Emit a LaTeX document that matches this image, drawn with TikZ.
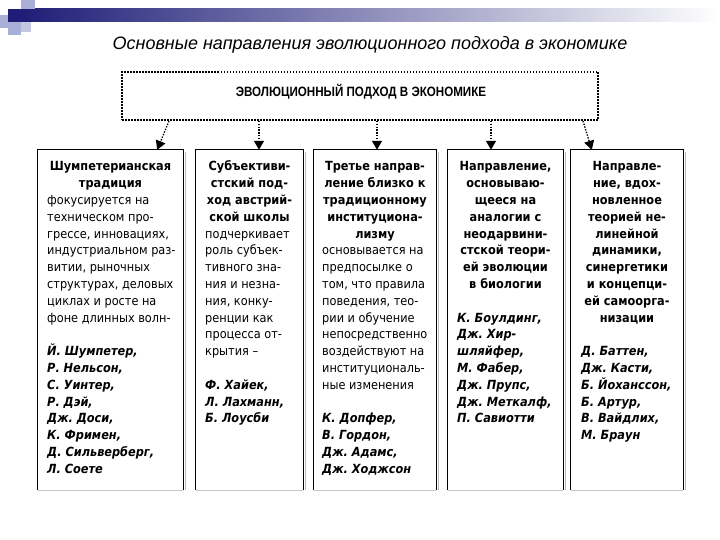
\documentclass[tikz,border=0pt]{standalone}
\usepackage{fontspec}
\setmainfont{DejaVu Sans Condensed}
\newfontfamily\titlefont{Liberation Sans}
\usetikzlibrary{arrows.meta,calc}
\definecolor{navy}{HTML}{1E1E78}
\definecolor{lav}{HTML}{A9AFD6}
\tikzset{
  colbox/.style={inner sep=0pt, fill=white},
  colfont/.style={font=\fontsize{12.6}{16.8}\selectfont\frenchspacing},
  headtext/.style={anchor=north, inner sep=0pt, align=center, colfont},
  bodytext/.style={anchor=north west, inner sep=0pt, align=left, colfont},
  nametext/.style={anchor=north west, inner sep=0pt, align=left, font=\fontsize{12.6}{16.8}\selectfont\frenchspacing\bfseries\itshape},
  topbox/.style={draw=black, line width=1.5pt, dash pattern=on 1.5pt off 1.5pt, inner sep=0pt, fill=white},
  arr/.style={line width=1.3pt, dash pattern=on 1.4pt off 1.4pt, -{Triangle[width=10pt,length=9pt]}},
}
\newcommand\boxedges[1]{%
  \draw[gray!55, line width=1.2pt] ([xshift=2pt,yshift=-2pt]#1.north east) -- ([xshift=2pt]#1.south east);
  \draw[gray!45, line width=1pt] (#1.south west) -- (#1.south east);
  \draw[black, line width=1pt] (#1.south west) -- (#1.north west) -- (#1.north east) -- (#1.south east);
}
\begin{document}
\begin{tikzpicture}[x=1pt,y=-1pt]
\useasboundingbox (0,0) rectangle (720,540);
\fill[white] (0,0) rectangle (720,540);
% header decoration
\shade[left color=navy, right color=white] (21,9) rectangle (720,22);
\fill[navy] (8,9) rectangle (21,22);
\fill[lav] (21,0) rectangle (35,9);
\fill[lav] (0,15) rectangle (8,28);
\fill[lav] (8,22) rectangle (21,35);
\fill[lav!70] (21,22) rectangle (31,32);
% title
\node[font=\titlefont\itshape\fontsize{18}{20}\selectfont, inner sep=0pt] (title) at (370,45) {Основные направления эволюционного подхода в экономике};
% top box
\node[topbox, minimum width=476pt, minimum height=48pt] (tb) at (360,96) {};
\node[font=\titlefont\bfseries\fontsize{13.5}{15}\selectfont, inner sep=0pt] (tbl) at (361,92) {\scalebox{0.86}[1]{ЭВОЛЮЦИОННЫЙ ПОДХОД В ЭКОНОМИКЕ}};
% columns
\node[colbox, minimum width=145pt, minimum height=340pt] (c1) at (110.5,320) {};
\node[colbox, minimum width=107pt, minimum height=340pt] (c2) at (249.5,320) {};
\node[colbox, minimum width=122pt, minimum height=340pt] (c3) at (375,320) {};
\node[colbox, minimum width=115pt, minimum height=340pt] (c4) at (505.5,320) {};
\node[colbox, minimum width=112pt, minimum height=340pt] (c5) at (627,320) {};
\boxedges{c1}\boxedges{c2}\boxedges{c3}\boxedges{c4}\boxedges{c5}
% arrows
\coordinate (s1) at (169,121);
\coordinate (s2) at (259,121);
\coordinate (s3) at (377,121);
\coordinate (s4) at (491,121);
\coordinate (s5) at (583,121);
\draw[arr] (s1) -- ([xshift=-26pt]c1.north east);
\draw[arr] (s2) -- (s2 |- c2.north);
\draw[arr] (s3) -- (s3 |- c3.north);
\draw[arr] (s4) -- (s4 |- c4.north);
\draw[arr] (s5) -- ([xshift=21pt]c5.north west);
% column 1
\node[headtext] (h1) at (110.5,159) {\strut\bfseries Шумпетерианская\\\bfseries традиция};
\node[bodytext] (b1) at (47,192.6) {\strut фокусируется на\\техническом про-\\грессе, инновациях,\\индустриальном раз-\\витии, рыночных\\структурах, деловых\\циклах и росте на\\фоне длинных волн-};
\node[nametext] (n1) at (47,343.8) {\strut Й. Шумпетер,\\Р. Нельсон,\\С. Уинтер,\\Р. Дэй,\\Дж. Доси,\\К. Фримен,\\Д. Сильверберг,\\Л. Соете};
% column 2
\node[headtext] (h2) at (249.5,159) {\strut\bfseries Субъективи-\\\bfseries стский под-\\\bfseries ход австрий-\\\bfseries ской школы};
\node[bodytext] (b2) at (205,226.2) {\strut подчеркивает\\роль субъек-\\тивного зна-\\ния и незна-\\ния, конку-\\ренции как\\процесса от-\\крытия –};
\node[nametext] (n2) at (205,377.4) {\strut Ф. Хайек,\\Л. Лахманн,\\Б. Лоусби};
% column 3
\node[headtext] (h3) at (375,159) {\strut\bfseries Третье направ-\\\bfseries ление близко к\\\bfseries традиционному\\\bfseries институциона-\\\bfseries лизму};
\node[bodytext] (b3) at (322,243) {\strut основывается на\\предпосылке о\\том, что правила\\поведения, тео-\\рии и обучение\\непосредственно\\воздействуют на\\институциональ-\\ные изменения};
\node[nametext] (n3) at (322,411) {\strut К. Допфер,\\В. Гордон,\\Дж. Адамс,\\Дж. Ходжсон};
% column 4
\node[headtext] (h4) at (505.5,159) {\strut\bfseries Направление,\\\bfseries основываю-\\\bfseries щееся на\\\bfseries аналогии с\\\bfseries неодарвини-\\\bfseries стской теори-\\\bfseries ей эволюции\\\bfseries в биологии};
\node[nametext] (n4) at (457,310.2) {\strut К. Боулдинг,\\Дж. Хир-\\шляйфер,\\М. Фабер,\\Дж. Прупс,\\Дж. Меткалф,\\П. Савиотти};
% column 5
\node[headtext] (h5) at (627,159) {\strut\bfseries Направле-\\\bfseries ние, вдох-\\\bfseries новленное\\\bfseries теорией не-\\\bfseries линейной\\\bfseries динамики,\\\bfseries синергетики\\\bfseries и концепци-\\\bfseries ей самоорга-\\\bfseries низации};
\node[nametext] (n5) at (581,343.8) {\strut Д. Баттен,\\Дж. Касти,\\Б. Йоханссон,\\Б. Артур,\\В. Вайдлих,\\М. Браун};
\end{tikzpicture}
\end{document}
